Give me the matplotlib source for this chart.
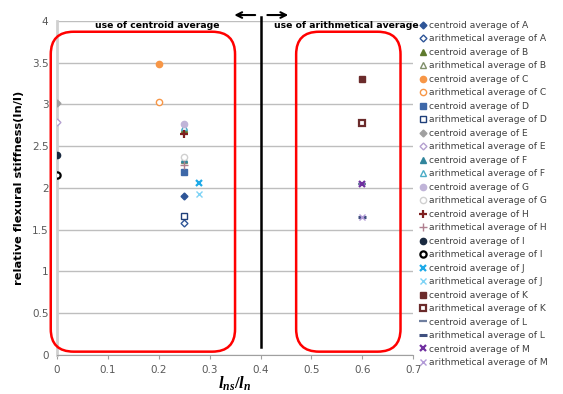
import numpy as np
import matplotlib
matplotlib.use("Agg")
import matplotlib.pyplot as plt
from matplotlib.patches import FancyBboxPatch

# --- data ---
groups = ["A", "B", "C", "D", "E", "F", "G", "H", "I", "J", "K", "L", "M"]
x_pos = [0.25, 0.25, 0.2, 0.25, 0.0, 0.25, 0.25, 0.25, 0.0, 0.28, 0.6, 0.6, 0.6]
centroid_vals = [1.90, 2.70, 3.48, 2.19, 3.02, 2.35, 2.77, 2.65, 2.40, 2.06, 3.31, 2.05, 2.05]
arith_vals = [1.58, 2.33, 3.03, 1.67, 2.79, 2.73, 2.37, 2.27, 2.15, 1.93, 2.78, 1.65, 1.65]

x_ticks = [0, 0.1, 0.2, 0.3, 0.4, 0.5, 0.6, 0.7]
y_ticks = [0, 0.5, 1, 1.5, 2, 2.5, 3, 3.5, 4]

# marker style per group: (marker, centroid colour, arith colour, arith filled?)
styles = {
    "A": ("D", "#2E5597", "#2E5597", False),
    "B": ("^", "#5E7A2E", "#7F8F6A", False),
    "C": ("o", "#F79646", "#F79646", False),
    "D": ("s", "#3E68A8", "#1F3F7A", False),
    "E": ("D", "#A0A0A0", "#B4A0D0", False),
    "F": ("^", "#31859C", "#4BACC6", False),
    "G": ("o", "#C0B4D8", "#D0D0D0", False),
    "H": ("+", "#7F2020", "#B08090", True),
    "I": ("o", "#1A2A40", "#000000", False),
    "J": ("x", "#1EAAE8", "#7FD3F5", True),
    "K": ("s", "#6B2B2B", "#6B2B2B", False),
    "L": ("_", "#6F7F9F", "#3F4F7F", True),
    "M": ("x", "#7030A0", "#B39BD8", True),
}
msize = {"D": 3.5, "^": 4.5, "o": 4.5, "s": 4.5, "+": 6, "x": 5, "_": 6}

plt.rcParams["font.family"] = ["DejaVu Sans"]
plt.rcParams["mathtext.fontset"] = "custom"
plt.rcParams["mathtext.it"] = "Liberation Serif:bold:italic"
plt.rcParams["mathtext.rm"] = "Liberation Serif:bold"

fig = plt.figure(figsize=(5.63, 3.94), dpi=100)
ax = fig.add_axes([0.101, 0.099, 0.633, 0.848])

for g, xv, cv, av in zip(groups, x_pos, centroid_vals, arith_vals):
    mk, c1, c2, filled_arith = styles[g]
    ms = msize[mk]
    mew = 1.6 if mk in ("+", "x", "_") else 1.0
    ax.plot([xv], [cv], linestyle="none", marker=mk, markersize=ms,
            color=c1, markerfacecolor=c1, markeredgecolor=c1, markeredgewidth=mew,
            label="centroid average of " + g, zorder=5)
    if filled_arith:
        ax.plot([xv], [av], linestyle="none", marker=mk, markersize=ms,
                color=c2, markeredgewidth=1.0 if g != "L" else 2.2,
                label="arithmetical average of " + g, zorder=5)
    else:
        ax.plot([xv], [av], linestyle="none", marker=mk, markersize=ms,
                markerfacecolor="white", markeredgecolor=c2,
                markeredgewidth=1.6 if g in ("I", "K") else 1.0,
                label="arithmetical average of " + g, zorder=5)

ax.set_xlim(0, 0.7)
ax.set_ylim(0, 4)
ax.set_xticks(x_ticks)
ax.set_xticklabels([str(t) for t in x_ticks])
ax.set_yticks(y_ticks)
ax.set_yticklabels([("%g" % t) for t in y_ticks])
ax.tick_params(axis="both", labelsize=7.5, colors="#595959")
ax.tick_params(axis="y", length=0, pad=6)
ax.tick_params(axis="x", length=3, color="#A0A0A0", pad=4)

ax.grid(True, axis="y", color="#BEBEBE", linewidth=1.0)
ax.set_axisbelow(True)
for s in ["top", "right"]:
    ax.spines[s].set_visible(False)
ax.spines["left"].set_color("#D0D0D0")
ax.spines["left"].set_linewidth(2.0)
ax.spines["bottom"].set_color("#A0A0A0")

ax.set_ylabel("relative flexural stiffness(In/I)", fontsize=8.2, fontweight="bold", labelpad=6)
ax.set_xlabel(r"$l_{ns}/l_n$", fontsize=12, labelpad=0)

# red rounded frames
for x0, x1 in [(-0.012, 0.35), (0.47, 0.675)]:
    box = FancyBboxPatch((x0, 0.04), x1 - x0, 3.83,
                         boxstyle="round,pad=0,rounding_size=0.045",
                         mutation_aspect=6.0, fill=False, edgecolor="#FF0000",
                         linewidth=1.8, transform=ax.transData, clip_on=False, zorder=3)
    ax.add_patch(box)

# divider and arrows
ax.plot([0.4, 0.4], [0.1, 4.05], color="black", linewidth=1.8, clip_on=False, zorder=4)
ax.annotate("", xy=(0.343, 4.07), xytext=(0.395, 4.07), annotation_clip=False,
            arrowprops=dict(arrowstyle="->", color="black", lw=1.5))
ax.annotate("", xy=(0.46, 4.07), xytext=(0.408, 4.07), annotation_clip=False,
            arrowprops=dict(arrowstyle="->", color="black", lw=1.5))
ax.text(0.197, 3.94, "use of centroid average", fontsize=6.7, fontweight="bold",
        ha="center", va="center")
ax.text(0.568, 3.94, "use of arithmetical average", fontsize=6.7, fontweight="bold",
        ha="center", va="center", clip_on=False)

leg = ax.legend(loc="upper left", bbox_to_anchor=(1.02, 1.0), frameon=False,
                fontsize=6.6, labelspacing=0.49, handlelength=0.6, handletextpad=0.3,
                borderaxespad=0.0, borderpad=0.0)
for t in leg.get_texts():
    t.set_color("#404040")

plt.savefig("out.png", dpi=100)
plt.close()
